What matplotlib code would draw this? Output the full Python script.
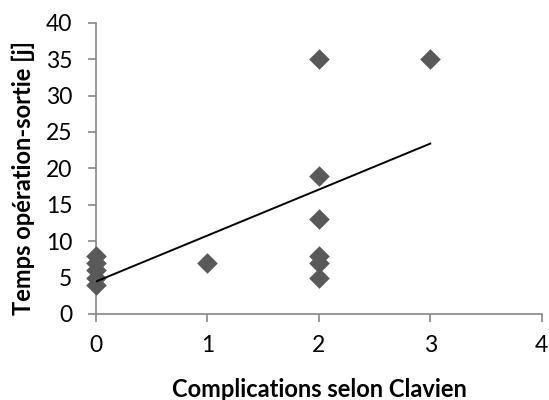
import numpy as np
import matplotlib.pyplot as plt

plt.rcParams['font.family'] = ['Lato', 'DejaVu Sans']

# complications (Clavien grade) vs days from operation to discharge
complications = [0, 0, 0, 0, 0, 1, 2, 2, 2, 2, 2, 2, 3]
days = [4, 5, 6, 7, 8, 7, 35, 19, 13, 8, 7, 5, 35]

fig = plt.figure(figsize=(5.49, 4), dpi=100)
ax = fig.add_axes([0.1749, 0.215, 0.8118, 0.7283])

ax.scatter(complications, days, marker='D', s=110, color='#595959',
           linewidths=0, zorder=3, clip_on=False)

# linear trend line
slope, intercept = np.polyfit(complications, days, 1)
xs = np.array([min(complications), max(complications)])
ax.plot(xs, slope * xs + intercept, color='black', lw=1.4, zorder=4)

ax.set_xlim(0, 4)
ax.set_ylim(0, 40)
ax.set_xticks(range(0, 5))
ax.set_yticks(range(0, 41, 5))
for s in ['top', 'right']:
    ax.spines[s].set_visible(False)
for s in ['left', 'bottom']:
    ax.spines[s].set_color('#868686')
    ax.spines[s].set_linewidth(1.2)
ax.tick_params(colors='#868686', labelcolor='black', labelsize=16.5,
               length=6, width=1.2)
ax.tick_params(axis='x', pad=9)
ax.tick_params(axis='y', pad=11)

fig.text(0.581, 1 - 397 / 400, 'Complications selon Clavien', fontsize=17,
         fontweight='bold', ha='center', va='baseline')
fig.text(23 / 549, 1 - 178 / 400, 'Temps opération-sortie [j]', fontsize=17,
         fontweight='bold', ha='center', va='center', rotation=90)

fig.savefig('out.png', dpi=100)
